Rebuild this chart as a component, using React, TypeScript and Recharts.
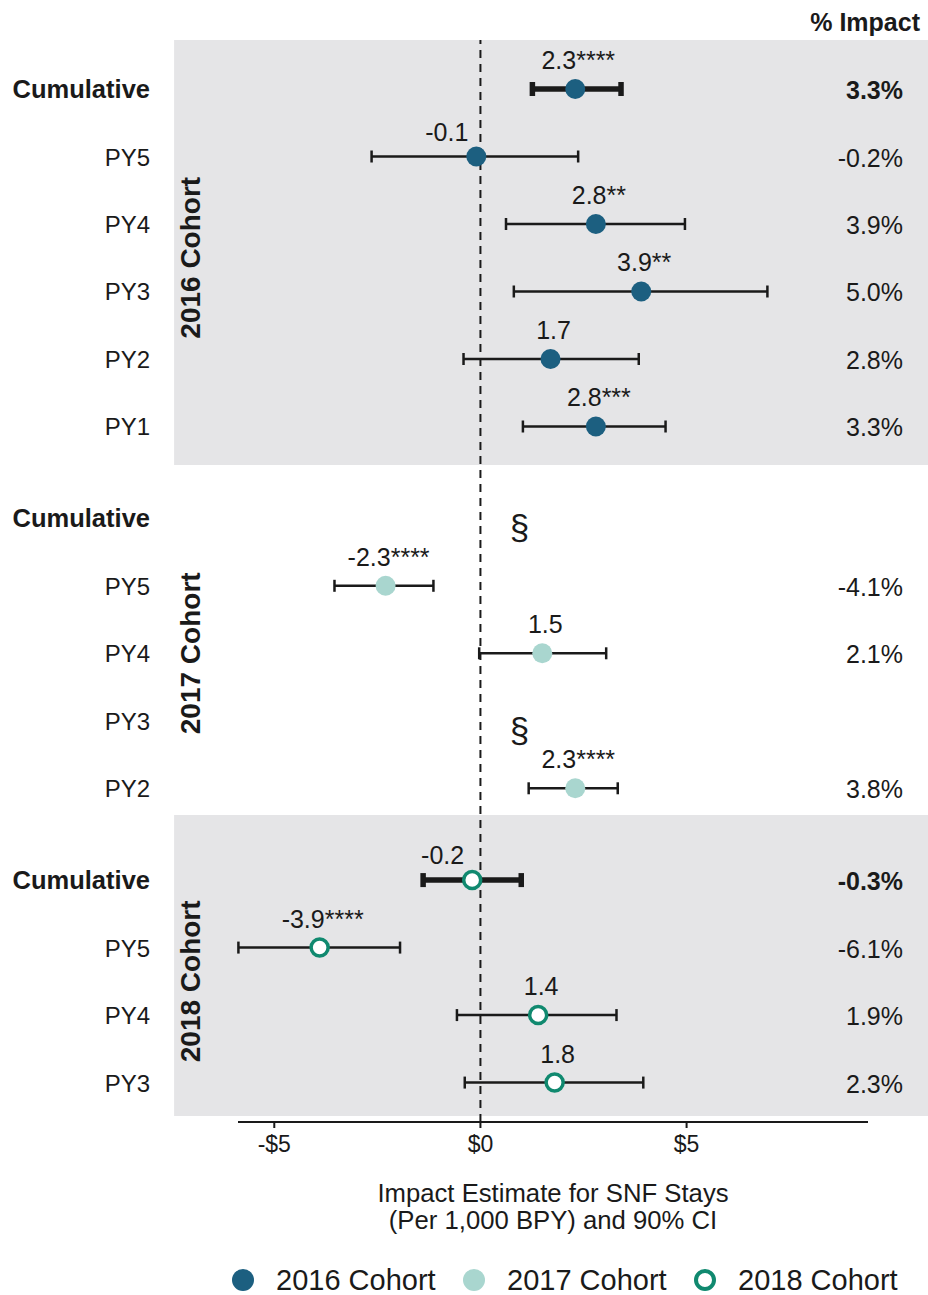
import React from "react";
import { ScatterChart, Scatter, XAxis, YAxis, ErrorBar, ReferenceArea, ReferenceLine, Legend } from "recharts";

const FONT = '"Liberation Sans", Arial, Helvetica, sans-serif';
const INK = "#1a1a1a";
const W = 928;
const H = 1295;

// ---- data ----
const cohorts = ["2016 Cohort", "2017 Cohort", "2018 Cohort"];

const labels2016 = ["Cumulative", "PY5", "PY4", "PY3", "PY2", "PY1"];
const est2016 = [2.3, -0.1, 2.8, 3.9, 1.7, 2.8];
const lo2016 = [1.26, -2.64, 0.62, 0.81, -0.41, 1.03];
const hi2016 = [3.41, 2.37, 4.96, 6.96, 3.84, 4.49];
const stars2016 = ["****", "", "**", "**", "", "***"];
const pct2016 = ["3.3%", "-0.2%", "3.9%", "5.0%", "2.8%", "3.3%"];

const labels2017 = ["Cumulative", "PY5", "PY4", "PY3", "PY2"];
const est2017 = [null, -2.3, 1.5, null, 2.3];
const lo2017 = [null, -3.54, -0.03, null, 1.17];
const hi2017 = [null, -1.14, 3.05, null, 3.33];
const stars2017 = ["", "****", "", "", "****"];
const pct2017 = ["", "-4.1%", "2.1%", "", "3.8%"];

const labels2018 = ["Cumulative", "PY5", "PY4", "PY3"];
const est2018 = [-0.2, -3.9, 1.4, 1.8];
const lo2018 = [-1.39, -5.87, -0.57, -0.38];
const hi2018 = [0.99, -1.95, 3.3, 3.95];
const stars2018 = ["", "****", "", ""];
const pct2018 = ["-0.3%", "-6.1%", "1.9%", "2.3%"];

const xTicks = [-5, 0, 5];

// ---- layout ----
const GROUP_GAP = 0.36;
const Y_DOMAIN: [number, number] = [-0.726, 15.304];
const X_DOMAIN: [number, number] = [-5.88, 9.4];
const PANEL_X: [number, number] = [-7.43, 10.86];
const panelPads: ([number, number] | null)[] = [[0.726, 0.57], null, [0.964, 0.495]];

const colors = { c2016: "#1c5f80", c2017: "#a9d6cf", c2018: "#10896f", panel: "#e5e5e7" };

type Row = {
  cohort: number;
  label: string;
  est: number | null;
  lo: number | null;
  hi: number | null;
  stars: string;
  pct: string;
  y: number;
  cum: boolean;
};

const groups = [
  { labels: labels2016, est: est2016, lo: lo2016, hi: hi2016, stars: stars2016, pct: pct2016 },
  { labels: labels2017, est: est2017, lo: lo2017, hi: hi2017, stars: stars2017, pct: pct2017 },
  { labels: labels2018, est: est2018, lo: lo2018, hi: hi2018, stars: stars2018, pct: pct2018 },
];

const rows: Row[] = [];
let k = 0;
groups.forEach((g, gi) => {
  g.labels.forEach((label, i) => {
    rows.push({
      cohort: gi,
      label,
      est: g.est[i],
      lo: g.lo[i],
      hi: g.hi[i],
      stars: g.stars[i],
      pct: g.pct[i],
      y: k + gi * GROUP_GAP,
      cum: label === "Cumulative",
    });
    k++;
  });
});

const groupRows = (gi: number) => rows.filter((r) => r.cohort === gi);
const cohortCenters = cohorts.map((_, gi) => {
  const r = groupRows(gi);
  return (r[0].y + r[r.length - 1].y) / 2;
});

const points = (gi: number, cum: boolean) =>
  groupRows(gi)
    .filter((r) => r.est !== null && r.cum === cum)
    .map((r) => ({
      x: r.est as number,
      y: r.y,
      err: [(r.est as number) - (r.lo as number), (r.hi as number) - (r.est as number)],
      text: (r.est as number).toFixed(1) + r.stars,
    }));

const suppressed = rows.filter((r) => r.est === null).map((r) => ({ x: 0, y: r.y }));

const findRow = (v: number) => rows.find((r) => Math.abs(r.y - v) < 1e-6);

type DotStyle = { r: number; fill: string; stroke: string; sw: number };

const makeShape = (s: DotStyle) => (props: any) => {
  const { cx, cy, payload } = props;
  const nearZero = Math.abs(payload.x) < 0.5;
  return (
    <g>
      <circle cx={cx} cy={cy} r={s.r} fill={s.fill} stroke={s.stroke} strokeWidth={s.sw} />
      <text
        x={nearZero ? cx - 8 : cx + 3}
        y={cy - (nearZero ? 16 : 20)}
        textAnchor={nearZero ? "end" : "middle"}
        fontSize={25}
        fill={INK}
        fontFamily={FONT}
      >
        {payload.text}
      </text>
    </g>
  );
};

const solid2016 = makeShape({ r: 10, fill: colors.c2016, stroke: "none", sw: 0 });
const solid2017 = makeShape({ r: 10, fill: colors.c2017, stroke: "none", sw: 0 });
const open2018 = makeShape({ r: 8.5, fill: "#ffffff", stroke: colors.c2018, sw: 3.5 });

const SectionMark = (props: any) => (
  <text x={props.cx + 39} y={props.cy + 22} textAnchor="middle" fontSize={35} fill={INK} fontFamily={FONT}>
    §
  </text>
);

const RowTick = (props: any) => {
  const row = findRow(props.payload.value);
  if (!row) return null;
  return (
    <text
      x={150}
      y={props.y + 9}
      textAnchor="end"
      fontSize={row.cum ? 25.5 : 24}
      fontWeight={row.cum ? 700 : 400}
      fill={INK}
      fontFamily={FONT}
    >
      {row.label}
    </text>
  );
};

const CohortTick = (props: any) => {
  const gi = cohortCenters.findIndex((c) => Math.abs(c - props.payload.value) < 1e-6);
  if (gi < 0) return null;
  const x = 191;
  return (
    <text
      x={x}
      y={props.y}
      transform={`rotate(-90 ${x} ${props.y})`}
      textAnchor="middle"
      dominantBaseline="central"
      fontSize={28}
      fontWeight={700}
      fill={INK}
      fontFamily={FONT}
    >
      {cohorts[gi]}
    </text>
  );
};

const PctTick = (props: any) => {
  const row = findRow(props.payload.value);
  if (!row || !row.pct) return null;
  return (
    <text x={903} y={props.y + 10} textAnchor="end" fontSize={25} fontWeight={row.cum ? 700 : 400} fill={INK} fontFamily={FONT}>
      {row.pct}
    </text>
  );
};

const PctHeader = (props: any) => {
  const vb = props.viewBox;
  return (
    <text x={vb.x + vb.width - 8} y={vb.y - 9} textAnchor="end" fontSize={25} fontWeight={700} fill={INK} fontFamily={FONT}>
      % Impact
    </text>
  );
};

const AxisTitle = (props: any) => {
  const vb = props.viewBox;
  const cx = vb.x + vb.width / 2;
  return (
    <text textAnchor="middle" fontSize={25.7} fill={INK} fontFamily={FONT}>
      <tspan x={cx} y={vb.y + 80}>
        Impact Estimate for SNF Stays
      </tspan>
      <tspan x={cx} y={vb.y + 107}>
        (Per 1,000 BPY) and 90% CI
      </tspan>
    </text>
  );
};

const legendItems = [
  { name: cohorts[0], fill: colors.c2016, stroke: "none", r: 11, sw: 0 },
  { name: cohorts[1], fill: colors.c2017, stroke: "none", r: 11, sw: 0 },
  { name: cohorts[2], fill: "#ffffff", stroke: colors.c2018, r: 9, sw: 4 },
];

const LegendContent = () => (
  <div style={{ display: "flex", alignItems: "center", paddingLeft: 231, height: 36, fontFamily: FONT, fontSize: 29, color: INK }}>
    {legendItems.map((it) => (
      <div key={it.name} style={{ display: "flex", alignItems: "center", width: 231 }}>
        <svg width={24} height={24}>
          <circle cx={12} cy={12} r={it.r} fill={it.fill} stroke={it.stroke} strokeWidth={it.sw} />
        </svg>
        <span style={{ marginLeft: 21, whiteSpace: "nowrap" }}>{it.name}</span>
      </div>
    ))}
  </div>
);

const fmtDollar = (v: number) => (v < 0 ? `-$${-v}` : `$${v}`);

export default function App() {
  return (
    <div style={{ position: "absolute", left: 0, top: 0, width: W, height: H, background: "#ffffff" }}>
      <ScatterChart width={W} height={H} margin={{ top: 40, right: 0, bottom: 53, left: 0 }}>
        <XAxis
          type="number"
          dataKey="x"
          domain={X_DOMAIN}
          allowDataOverflow
          ticks={xTicks}
          tickFormatter={fmtDollar}
          height={120}
          axisLine={{ stroke: INK, strokeWidth: 2 }}
          tickLine={{ stroke: INK, strokeWidth: 2 }}
          tickSize={6}
          tickMargin={8}
          tick={{ fontSize: 23, fill: INK, fontFamily: FONT }}
          label={{ content: AxisTitle }}
        />
        <YAxis
          yAxisId="rows"
          type="number"
          dataKey="y"
          domain={Y_DOMAIN}
          reversed
          allowDataOverflow
          ticks={rows.map((r) => r.y)}
          interval={0}
          width={190}
          axisLine={false}
          tickLine={false}
          tick={RowTick}
        />
        <YAxis
          yAxisId="cohort"
          type="number"
          domain={Y_DOMAIN}
          reversed
          allowDataOverflow
          ticks={cohortCenters}
          interval={0}
          width={48}
          axisLine={false}
          tickLine={false}
          tick={CohortTick}
        />
        <YAxis
          yAxisId="pct"
          orientation="right"
          type="number"
          domain={Y_DOMAIN}
          reversed
          allowDataOverflow
          ticks={rows.map((r) => r.y)}
          interval={0}
          width={60}
          axisLine={false}
          tickLine={false}
          tick={PctTick}
          label={{ content: PctHeader }}
        />
        {panelPads.map((pad, gi) => {
          if (!pad) return null;
          const r = groupRows(gi);
          return (
            <ReferenceArea
              key={`panel-${gi}`}
              yAxisId="rows"
              x1={PANEL_X[0]}
              x2={PANEL_X[1]}
              y1={r[0].y - pad[0]}
              y2={r[r.length - 1].y + pad[1]}
              fill={colors.panel}
              fillOpacity={1}
              stroke="none"
              ifOverflow="visible"
            />
          );
        })}
        <ReferenceLine yAxisId="rows" x={0} stroke={INK} strokeWidth={2} strokeDasharray="8 6" />
        <Scatter yAxisId="rows" data={points(0, true)} shape={solid2016} isAnimationActive={false}>
          <ErrorBar dataKey="err" direction="x" width={7} strokeWidth={5.5} stroke={INK} />
        </Scatter>
        <Scatter yAxisId="rows" data={points(0, false)} shape={solid2016} isAnimationActive={false}>
          <ErrorBar dataKey="err" direction="x" width={6} strokeWidth={2.5} stroke={INK} />
        </Scatter>
        <Scatter yAxisId="rows" data={points(1, false)} shape={solid2017} isAnimationActive={false}>
          <ErrorBar dataKey="err" direction="x" width={6} strokeWidth={2.5} stroke={INK} />
        </Scatter>
        <Scatter yAxisId="rows" data={points(2, true)} shape={open2018} isAnimationActive={false}>
          <ErrorBar dataKey="err" direction="x" width={7} strokeWidth={5.5} stroke={INK} />
        </Scatter>
        <Scatter yAxisId="rows" data={points(2, false)} shape={open2018} isAnimationActive={false}>
          <ErrorBar dataKey="err" direction="x" width={6} strokeWidth={2.5} stroke={INK} />
        </Scatter>
        <Scatter yAxisId="rows" data={suppressed} shape={SectionMark} isAnimationActive={false} />
        <Legend
          verticalAlign="middle"
          align="center"
          layout="horizontal"
          wrapperStyle={{ top: 1262, left: 0, width: W, height: 36 }}
          content={LegendContent}
        />
      </ScatterChart>
    </div>
  );
}
